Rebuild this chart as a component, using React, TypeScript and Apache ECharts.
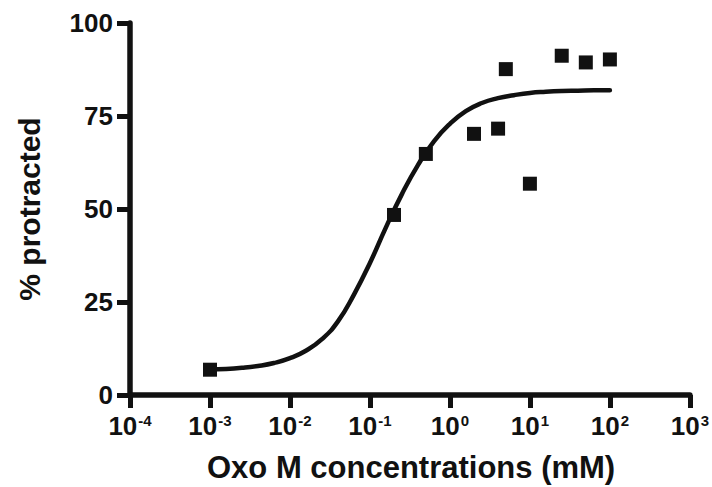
import React, { useEffect, useRef } from "react";
import * as echarts from "echarts";

const pointX = [0.001, 0.2, 0.5, 2, 4, 5, 10, 25, 50, 100];
const pointY = [6.8, 48.4, 64.8, 70.2, 71.6, 87.6, 56.8, 91.2, 89.4, 90.2];

const curveX = [0.001, 0.00158, 0.00251, 0.00398, 0.00631, 0.01, 0.0158, 0.0251, 0.0398, 0.0631, 0.1, 0.158, 0.251, 0.398, 0.631, 1, 1.58, 2.51, 3.98, 6.31, 10, 15.8, 25.1, 39.8, 63.1, 100];
const curveY = [6.9, 7.0, 7.3, 7.8, 8.6, 9.9, 11.9, 15.0, 19.8, 27.0, 35.5, 45.0, 54.0, 61.8, 68.2, 72.9, 76.3, 78.5, 79.8, 80.6, 81.2, 81.5, 81.7, 81.8, 81.9, 81.9];

const yTicks = [0, 25, 50, 75, 100];
const xTickExponents = ["-4", "-3", "-2", "-1", "0", "1", "2", "3"];
const xTitle = "Oxo M concentrations (mM)";
const yTitle = "% protracted";

const FONT = "'Liberation Sans', Arial, Helvetica, sans-serif";
const INK = "#111111";

export default function App() {
  const ref = useRef<HTMLDivElement>(null);
  useEffect(() => {
    if (!ref.current) return;
    const chart = echarts.init(ref.current, undefined, { renderer: "svg" });
    chart.setOption({
      animation: false,
      backgroundColor: "#ffffff",
      title: {
        text: xTitle,
        left: 207,
        top: 452,
        padding: 0,
        textStyle: { fontFamily: FONT, fontWeight: "bold", fontSize: 31, color: INK },
      },
      grid: { left: 130, right: 21, top: 23, bottom: 92 },
      xAxis: {
        type: "log",
        logBase: 10,
        min: 1e-4,
        max: 1e3,
        splitNumber: 7,
        axisLine: { show: true, lineStyle: { color: INK, width: 5.5 } },
        axisTick: { show: true, inside: false, length: 13, lineStyle: { color: INK, width: 5 } },
        splitLine: { show: false },
        minorTick: { show: false },
        axisLabel: {
          margin: 18,
          formatter: (v: number) => {
            const idx = Math.round(Math.log10(v)) + 4;
            return "{b|10}{s|" + xTickExponents[idx] + "}";
          },
          rich: {
            b: { fontFamily: FONT, fontWeight: "bold", fontSize: 26, color: INK },
            s: { fontFamily: FONT, fontWeight: "bold", fontSize: 15, color: INK, verticalAlign: "top", padding: [0, 0, 10, 1] },
          },
        },
      },
      yAxis: {
        type: "value",
        min: 0,
        max: 100,
        interval: 25,
        name: yTitle,
        nameLocation: "middle",
        nameGap: 86,
        nameRotate: 90,
        nameTextStyle: { fontFamily: FONT, fontWeight: "bold", fontSize: 30, color: INK },
        axisLine: { show: true, lineStyle: { color: INK, width: 5.5 } },
        axisTick: { show: true, length: 13, lineStyle: { color: INK, width: 5 } },
        splitLine: { show: false },
        axisLabel: {
          margin: 17,
          formatter: (v: number) => (yTicks.indexOf(v) >= 0 ? "{n|" + v + "}" : ""),
          rich: {
            n: { fontFamily: FONT, fontWeight: "bold", fontSize: 26, color: INK },
          },
        },
      },
      series: [
        {
          type: "line",
          data: curveX.map((x, i) => [x, curveY[i]]),
          smooth: true,
          showSymbol: false,
          symbol: "none",
          lineStyle: { color: INK, width: 4.5, cap: "round" },
          z: 2,
        },
        {
          type: "scatter",
          data: pointX.map((x, i) => [x, pointY[i]]),
          symbol: "rect",
          symbolSize: 14,
          itemStyle: { color: INK, opacity: 1 },
          z: 3,
        },
      ],
    });
    return () => chart.dispose();
  }, []);
  return <div ref={ref} style={{ width: 712, height: 487, position: "absolute", left: 0, top: 0 }} />;
}
